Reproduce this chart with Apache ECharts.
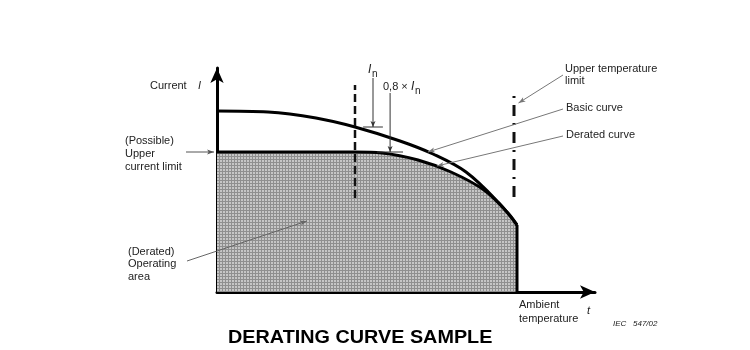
<!DOCTYPE html>
<html><head><meta charset="utf-8">
<script src="https://cdn.jsdelivr.net/npm/echarts@6/dist/echarts.min.js"></script>
<style>html,body{margin:0;padding:0;background:#fff}#c{width:750px;height:350px}</style>
</head><body><div id="c"></div>
<script>
// Ambient temperature (arbitrary units) and current (arbitrary units)
const basicT   = [0, 17, 33, 46, 61, 72, 83, 94, 100];
const basicI   = [90.5, 90, 87, 82.5, 75.5, 69, 60, 44.5, 33.5];
const deratedT = [0, 46, 55, 67, 78, 89, 97, 100];
const deratedI = [70, 70, 69.5, 66, 60, 51, 39.5, 33.5];
const ratedTempLine = {t: 46, from: 47, to: 103.5};
const upperTempLine = {t: 99, from: 98, to: 47.5};
const edgeLine = {t: 100, from: 0, to: 33.5};
const axisMax = {t: 126, i: 112};

const chart = echarts.init(document.getElementById('c'));

function makePattern(){
  const c = document.createElement('canvas'); c.width = 3; c.height = 3;
  const g = c.getContext('2d');
  g.fillStyle = '#c6c6c6'; g.fillRect(0,0,3,3);
  g.fillStyle = '#8f8f8f'; g.fillRect(0,0,3,1); g.fillRect(0,0,1,3);
  return c;
}
const zip = (a,b) => a.map((v,i)=>[v,b[i]]);

chart.setOption({
  animation: false,
  grid: {left: 217, top: 68, width: 378, height: 224, containLabel: false},
  xAxis: {type:'value', min:0, max:axisMax.t, splitLine:{show:false}, axisTick:{show:false}, axisLabel:{show:false},
    axisLine:{show:true, symbol:['none','arrow'], symbolSize:[10,15], lineStyle:{color:'#000', width:3}}},
  yAxis: {type:'value', min:0, max:axisMax.i, splitLine:{show:false}, axisTick:{show:false}, axisLabel:{show:false},
    axisLine:{show:true, symbol:['none','arrow'], symbolSize:[10,15], lineStyle:{color:'#000', width:3}}},
  series: [
    {type:'line', data: zip(deratedT, deratedI), smooth:0.35, symbol:'none', z:3,
      lineStyle:{color:'#000', width:3}, areaStyle:{color:{image: makePattern(), repeat:'repeat'}, opacity:1}},
    {type:'line', data: zip(basicT, basicI), smooth:0.35, symbol:'none', z:4, lineStyle:{color:'#000', width:3}},
    {type:'line', data: [[edgeLine.t, edgeLine.from],[edgeLine.t, edgeLine.to]], symbol:'none', z:4, lineStyle:{color:'#000', width:3}},
    {type:'line', data: [[ratedTempLine.t, ratedTempLine.from],[ratedTempLine.t, ratedTempLine.to]], symbol:'none', z:5,
      lineStyle:{color:'#111', width:2.5, type:[8,4]}},
    {type:'line', data: [[upperTempLine.t, upperTempLine.from],[upperTempLine.t, upperTempLine.to]], symbol:'none', z:5,
      lineStyle:{color:'#111', width:3, type:[2,7,11,7]}}
  ]
});

const P = (x,y) => chart.convertToPixel({gridIndex:0}, [x,y]);
const F = 'Liberation Sans, Arial, sans-serif';
const G = [];
function txt(s, x, y, opt){
  opt = opt || {};
  G.push({type:'text', z:10, x:x, y:y, scaleX: opt.sx||1, scaleY: opt.sy||1,
    style:{text:s, x:0, y:0, font:(opt.style||'')+' '+(opt.size||11)+'px '+F, fill:opt.fill||'#222',
    align:'left', verticalAlign:'middle'}});
}
function arrow(sx, sy, tx, ty, color, w, len, hw){
  G.push({type:'line', z:10, shape:{x1:sx,y1:sy,x2:tx,y2:ty}, style:{stroke:color, lineWidth:w}});
  const dx = tx-sx, dy = ty-sy, d = Math.hypot(dx,dy), ux = dx/d, uy = dy/d;
  const bx = tx-ux*len, by = ty-uy*len;
  G.push({type:'polygon', z:10, shape:{points:[[tx,ty],[bx-uy*hw, by+ux*hw],[bx+ux*len*0.25, by+uy*len*0.25],[bx+uy*hw, by-ux*hw]]}, style:{fill:color}});
}
function seg(a, b, color, w){
  G.push({type:'line', z:10, shape:{x1:a[0],y1:a[1],x2:b[0],y2:b[1]}, style:{stroke:color, lineWidth:w}});
}

// Axis titles
txt('Current', 150, 86);
txt('I', 198, 86, {style:'italic'});
txt('Ambient', 519, 305);
txt('temperature', 519, 319);
txt('t', 587, 311, {style:'italic'});
txt('IEC   547/02', 613, 324, {style:'italic', size:8});

// Possible upper current limit
txt('(Possible)', 125, 141);
txt('Upper', 125, 154);
txt('current limit', 125, 167);
const ul = P(-1, 70);
arrow(186, ul[1], ul[0], ul[1], '#555', 1, 7, 2.5);

// Derated operating area
txt('(Derated)', 128, 252);
txt('Operating', 128, 264);
txt('area', 128, 277);
const oa = P(30, 35.5);
arrow(187, 261, oa[0], oa[1], '#666', 1, 7, 2.5);

// In
const inTip = P(52, 82.5);
txt('I', 368, 70, {style:'italic', size:12});
txt('n', 372, 74, {size:10});
arrow(inTip[0], 78, inTip[0], inTip[1], '#333', 1, 6, 2.5);
seg(P(48.7, 82.5), P(55.3, 82.5), '#333', 1);

// 0,8 x In
const dTip = P(57.7, 70);
txt('0,8 × ', 383, 87);
txt('I', 411, 87, {style:'italic', size:12});
txt('n', 415, 91, {size:10});
arrow(dTip[0], 93, dTip[0], dTip[1], '#333', 1, 6, 2.5);
seg(P(53.3, 70), P(62, 70), '#333', 1);

// Right side labels
txt('Upper temperature', 565, 69);
txt('limit', 565, 81);
const ut = P(100.5, 94.5);
arrow(563, 75, ut[0], ut[1], '#777', 1, 7, 2.5);
txt('Basic curve', 566, 108);
const bc = P(70.3, 70);
arrow(563, 109, bc[0], bc[1], '#777', 1, 7, 2.5);
txt('Derated curve', 566, 135);
const dc = P(73.3, 63);
arrow(563, 136, dc[0], dc[1], '#777', 1, 7, 2.5);

// Title
G.push({type:'text', z:10, x:228, y:338, scaleX:1.1, style:{text:'DERATING CURVE SAMPLE', x:0, y:0, font:'bold 18px '+F, fill:'#000', align:'left', verticalAlign:'middle'}});

chart.setOption({graphic: G});
</script></body></html>
